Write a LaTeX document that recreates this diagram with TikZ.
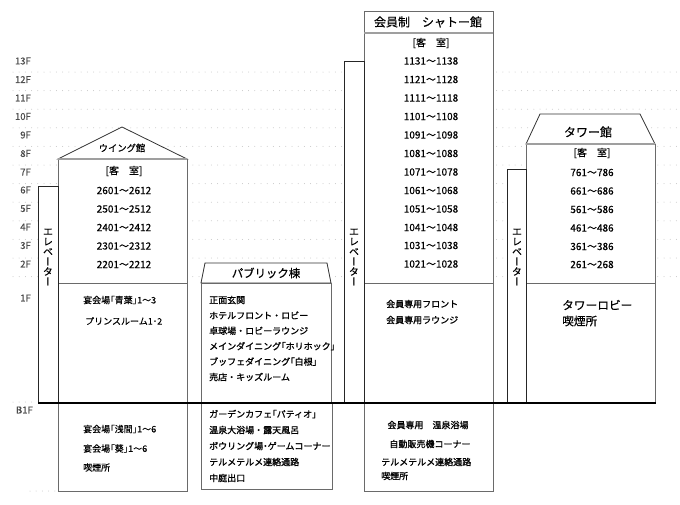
\documentclass[tikz,border=0pt]{standalone}
\usepackage{fontspec}
\setmainfont{Noto Sans CJK JP}[FakeBold=0.3]
\newfontfamily\tatefont[RawFeature=+vert,FakeBold=0.6]{Noto Sans CJK JP}
\newfontfamily\heavyfont[FakeBold=1.1]{Noto Sans CJK JP}
\usetikzlibrary{calc}

\definecolor{edge}{HTML}{6A6A6A}
\definecolor{dotgray}{HTML}{C4C4C4}

\newcommand{\elevtext}{エ\\レ\\ベ\\ー\\タ\\ー}
\newcommand{\kl}{{\addfontfeature{RawFeature=+palt}「}}
\newcommand{\kr}{{\addfontfeature{RawFeature=+palt}」}}
\newcommand{\nk}{{\addfontfeature{RawFeature=+palt}・}}

\begin{document}
\begin{tikzpicture}[x=1pt,y=-1pt,
    wall/.style={draw=edge,fill=white,line width=0.8pt},
    lift/.style={draw=black!85,fill=white,line width=0.8pt},
    level/.style={dotgray,line width=1pt,line cap=round,dash pattern=on 0pt off 6.2pt},
    floorlab/.style={anchor=east,inner sep=0pt,text=black!70,font=\fontsize{9.5}{10}\selectfont},
    room/.style={inner sep=0pt,font=\fontsize{10}{12}\selectfont},
    info/.style={anchor=west,inner sep=0pt,font=\fontsize{9}{10}\selectfont},
    heavy/.style={info,font=\heavyfont\fontsize{9}{10}\selectfont},
    liftlab/.style={inner sep=0pt,align=center,font=\tatefont\fontsize{10}{10}\selectfont}]
\useasboundingbox (0,0) rectangle (680,504);
%\draw [help lines,step=20](0,0) grid (680,504);

% floor levels
\draw [level] (13,72) -- (680,72);
\draw [level] (13,90.6) -- (680,90.6);
\draw [level] (13,109.2) -- (680,109.2);
\draw [level] (13,127.8) -- (680,127.8);
\draw [level] (13,146.4) -- (680,146.4);
\draw [level] (13,165) -- (680,165);
\draw [level] (13,183.6) -- (680,183.6);
\draw [level] (13,202.2) -- (680,202.2);
\draw [level] (13,220.8) -- (680,220.8);
\draw [level] (13,239.4) -- (680,239.4);
\draw [level] (13,258) -- (680,258);
\draw [level] (13,276.6) -- (680,276.6);
\draw [level] (13,402) -- (36,402);
\draw [level] (30,491) -- (56,491);

\node [floorlab] (f13) at (31,61) {13F};
\node [floorlab] (f12) at (31,79.5) {12F};
\node [floorlab] (f11) at (31,98) {11F};
\node [floorlab] (f10) at (31,116.5) {10F};
\node [floorlab] (f9) at (31,135) {9F};
\node [floorlab] (f8) at (31,153.5) {8F};
\node [floorlab] (f7) at (31,172) {7F};
\node [floorlab] (f6) at (31,190) {6F};
\node [floorlab] (f5) at (31,208.5) {5F};
\node [floorlab] (f4) at (31,227) {4F};
\node [floorlab] (f3) at (31,245.5) {3F};
\node [floorlab] (f2) at (31,264) {2F};
\node [floorlab] (f1) at (31,298) {1F};
\node [floorlab] (fb1) at (33,410) {B1F};

% wing
\draw [wall,draw=black!80] (58,159) -- (122,127) -- (187,159) -- cycle;
\draw [wall] (58,159) rectangle (187,403);
\draw [gray!75,line width=1.8pt] (58,159) -- (187,159);
\draw [edge,line width=0.8pt] (58,283) -- (187,283);
\draw [wall] (58,403) rectangle (187,491);
\draw [lift] (38,186) rectangle (58,403);
\node [liftlab] (wing lift) at (48,257) {\elevtext};
\node [room,font=\fontsize{9.3}{10}\selectfont] (wing name) at (122,148) {ウイング館};
\node [room] (wing head) at (124,171) {[客　室]};
\node [room] (w6) at (124,190.5) {2601〜2612};
\node [room] (w5) at (124,209) {2501〜2512};
\node [room] (w4) at (124,227.5) {2401〜2412};
\node [room] (w3) at (124,246) {2301〜2312};
\node [room] (w2) at (124,264.5) {2201〜2212};
\node [info] (w1a) at (83,300) {宴会場\kl 青葉\kr 1〜3};
\node [info] (w1b) at (85,321) {プリンスルーム1･2};
\node [info] (wb1a) at (83,429) {宴会場\kl 浅間\kr 1〜6};
\node [info] (wb1b) at (83,448.5) {宴会場\kl 葵\kr 1〜6};
\node [info] (wb1c) at (83,467.5) {喫煙所};

% public
\draw [wall,draw=black!80] (201,283) -- (205,263) -- (327,263) -- (331,283) -- cycle;
\draw [wall] (201,283) rectangle (331,403);
\draw [wall] (201,403) rectangle (332,489);
\node [room,font=\fontsize{11.4}{12}\selectfont] (pub name) at (266,273) {パブリック棟};
\node [heavy] (p1a) at (209,300) {正面玄関};
\node [heavy] (p1b) at (209,315.4) {ホテルフロント・ロビー};
\node [heavy] (p1c) at (209,330.8) {卓球場・ロビーラウンジ};
\node [heavy] (p1d) at (209,346.2) {メインダイニング\kl ホリホック\kr};
\node [heavy] (p1e) at (209,361.6) {ブッフェダイニング\kl 白根\kr};
\node [heavy] (p1f) at (209,377) {売店・キッズルーム};
\node [heavy] (pb1a) at (209,414) {ガーデンカフェ\kl パティオ\kr};
\node [heavy] (pb1b) at (209,430) {温泉大浴場・露天風呂};
\node [heavy] (pb1c) at (209,446) {ボウリング場\nk ゲームコーナー};
\node [heavy] (pb1d) at (209,462) {テルメテルメ連絡通路};
\node [heavy] (pb1e) at (209,478) {中庭出口};

% chateau
\draw [wall] (364,11) rectangle (493,33);
\draw [wall] (364,33) rectangle (493,403);
\draw [gray!75,line width=1.4pt] (364,33) -- (493,33);
\draw [edge,line width=0.8pt] (364,283) -- (493,283);
\draw [wall] (364,403) rectangle (493,491);
\draw [lift] (344,61) rectangle (364,403);
\node [liftlab] (ch lift) at (354,257) {\elevtext};
\node [room,font=\fontsize{12}{12}\selectfont] (ch name) at (428,22) {会員制　シャトー館};
\node [room] (ch head) at (431,43) {[客　室]};
\node [room] (c13) at (431,61) {1131〜1138};
\node [room] (c12) at (431,79.5) {1121〜1128};
\node [room] (c11) at (431,98) {1111〜1118};
\node [room] (c10) at (431,116.5) {1101〜1108};
\node [room] (c9) at (431,135) {1091〜1098};
\node [room] (c8) at (431,153.5) {1081〜1088};
\node [room] (c7) at (431,172) {1071〜1078};
\node [room] (c6) at (431,190.5) {1061〜1068};
\node [room] (c5) at (431,209) {1051〜1058};
\node [room] (c4) at (431,227.5) {1041〜1048};
\node [room] (c3) at (431,245.5) {1031〜1038};
\node [room] (c2) at (431,264) {1021〜1028};
\node [heavy] (c1a) at (386,304) {会員専用フロント};
\node [heavy] (c1b) at (386,320) {会員専用ラウンジ};
\node [heavy,anchor=center] (cb1a) at (428,425) {会員専用　温泉浴場};
\node [heavy,anchor=center] (cb1b) at (430,444) {自動販売機コーナー};
\node [heavy] (cb1c) at (381,462) {テルメテルメ連絡通路};
\node [heavy] (cb1d) at (381,476) {喫煙所};

% tower
\draw [wall,draw=black!80] (526,144) -- (540,114) -- (640,114) -- (655,144) -- cycle;
\draw [wall] (526,144) rectangle (655,403);
\draw [gray!75,line width=1.4pt] (526,144) -- (655,144);
\draw [edge,line width=0.8pt] (526,283) -- (655,283);
\draw [lift] (507,169) rectangle (526,403);
\node [liftlab] (tw lift) at (517,257) {\elevtext};
\node [room,font=\fontsize{12}{12}\selectfont] (tw name) at (588,132) {タワー館};
\node [room] (tw head) at (592,153) {[客　室]};
\node [room] (t7) at (592,172.5) {761〜786};
\node [room] (t6) at (592,191) {661〜686};
\node [room] (t5) at (592,209.5) {561〜586};
\node [room] (t4) at (592,228) {461〜486};
\node [room] (t3) at (592,246.5) {361〜386};
\node [room] (t2) at (592,264.5) {261〜268};
\node [info,font=\fontsize{11.7}{12}\selectfont] (t1a) at (562,305) {タワーロビー};
\node [info,font=\fontsize{11.7}{12}\selectfont] (t1b) at (562,321) {喫煙所};

% ground
\draw [line width=2pt] (38,403) -- (656,403);
\end{tikzpicture}
\end{document}
